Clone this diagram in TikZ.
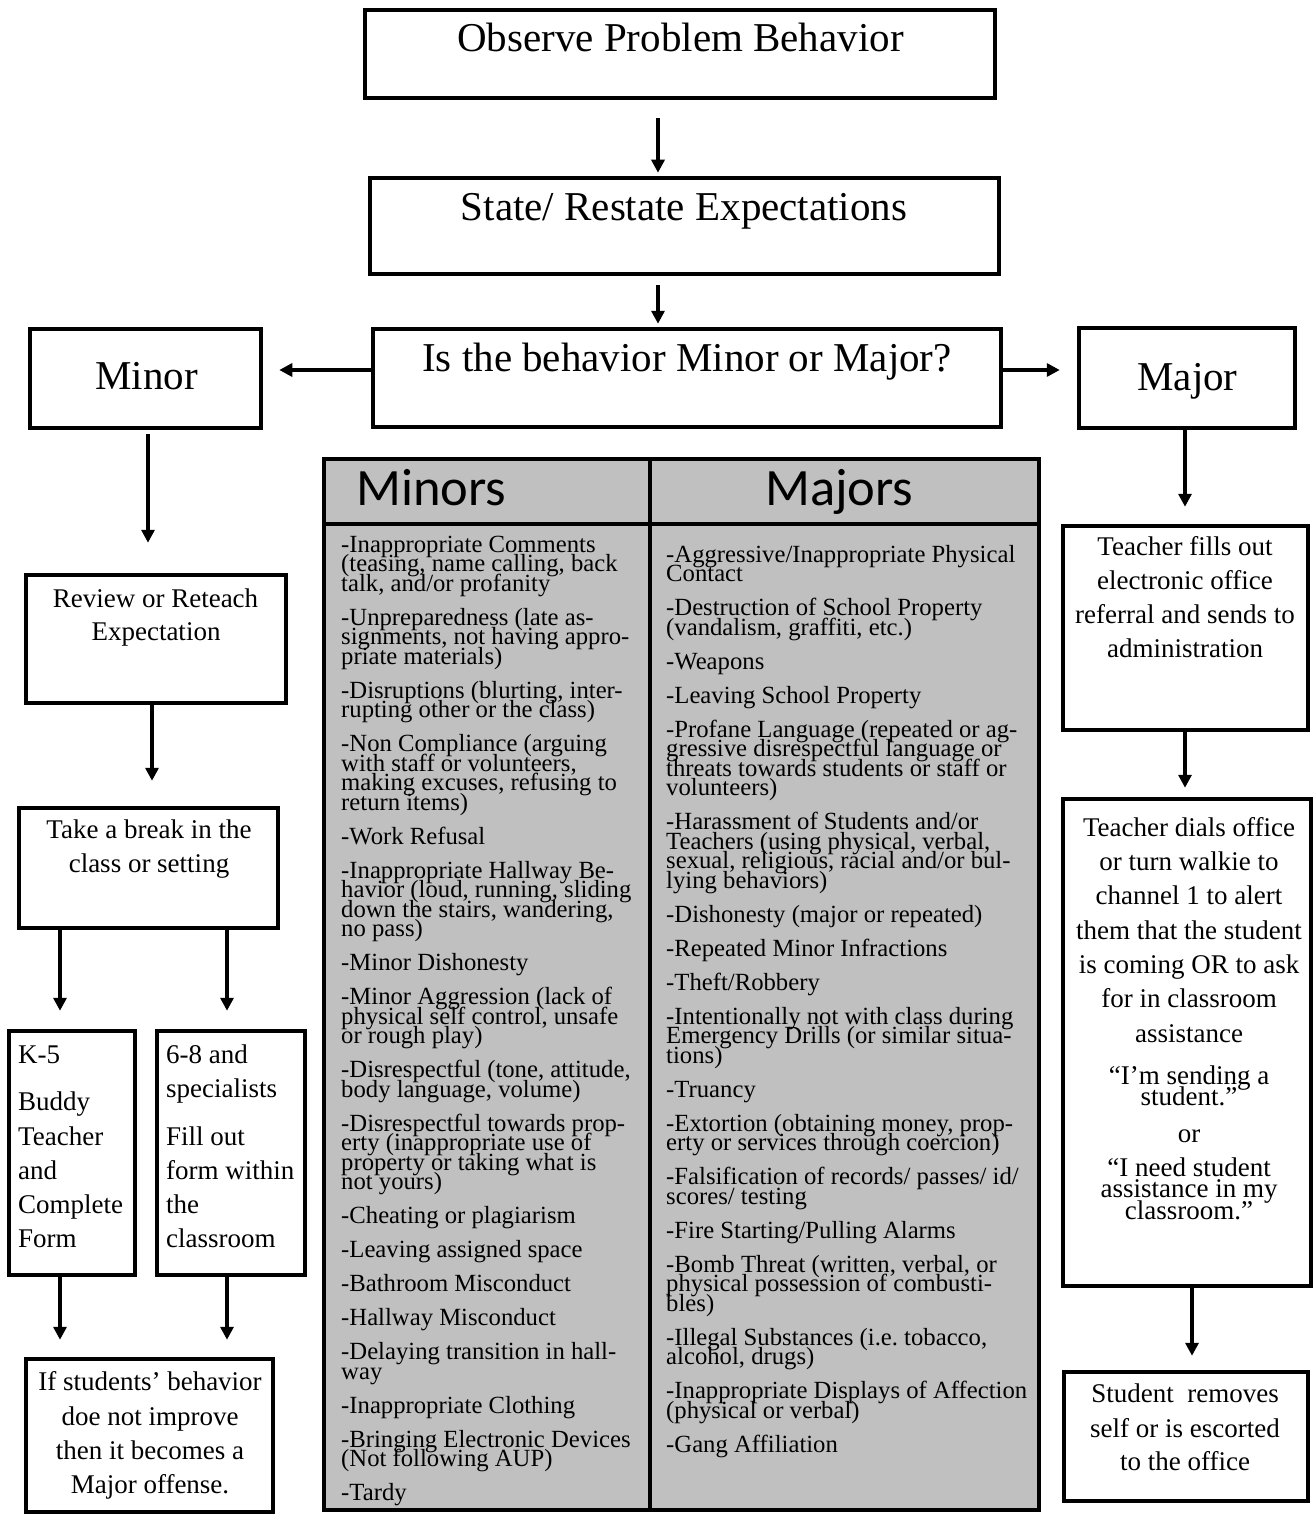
\documentclass[tikz,border=0pt]{standalone}
\usepackage{fontspec}
\setmainfont{Liberation Serif}
\newfontfamily\hdrfont{Carlito}
\usetikzlibrary{arrows.meta}
\definecolor{tgray}{RGB}{192,192,192}
\AtBeginDocument{\frenchspacing}
\newdimen\tyy
\newcount\tnn
\newcommand\TStart[2]{\gdef\tcx{#1}\global\tyy=#2pt\relax}
\newcommand\TL[1]{\global\advance\tnn by 1\relax
  \node[tabline] (tl\the\tnn) at (\tcx pt,-\the\tyy) {#1};
  \global\advance\tyy by 19.5pt\relax}
\newcommand\TG{\global\advance\tyy by 14.5pt\relax}
\begin{document}
\begin{tikzpicture}[x=1pt,y=-1pt,
  box/.style={draw,line width=4.5pt,inner sep=0pt},
  arr/.style={line width=3.5pt,-{Triangle[length=13pt,width=13pt]}},
  bigtxt/.style={anchor=base,inner sep=0pt,font=\fontsize{41}{49}\selectfont},
  btxt/.style={anchor=base,inner sep=0pt,font=\fontsize{27}{33}\selectfont},
  ltxt/.style={anchor=base west,inner sep=0pt,font=\fontsize{27}{33}\selectfont},
  tabline/.style={anchor=base west,inner sep=0pt,font=\fontsize{24.7}{20}\selectfont},
  hdr/.style={anchor=base west,inner sep=0pt,font=\hdrfont\fontsize{52.5}{60}\selectfont}]
\useasboundingbox (0,0) rectangle (1314,1514);
\fill[white] (0,0) rectangle (1314,1514);

% ---- boxes
\node[box,minimum width=630pt,minimum height=88pt] (obs) at (680,54) {};
\node[box,minimum width=629pt,minimum height=96pt] (state) at (684.5,226) {};
\node[box,minimum width=628pt,minimum height=98pt] (isq) at (687,378) {};
\node[box,minimum width=231pt,minimum height=99pt] (minor) at (145.5,378.5) {};
\node[box,minimum width=216pt,minimum height=100pt] (major) at (1187,378) {};
\node[box,minimum width=260pt,minimum height=128pt] (review) at (156,639) {};
\node[box,minimum width=259pt,minimum height=120pt] (takebr) at (148.5,868) {};
\node[box,minimum width=126pt,minimum height=244pt] (k5) at (72,1153) {};
\node[box,minimum width=148pt,minimum height=244pt] (six) at (231,1153) {};
\node[box,minimum width=247pt,minimum height=153pt] (ifst) at (149.5,1435.5) {};
\node[box,minimum width=245pt,minimum height=204pt] (fills) at (1185.5,628) {};
\node[box,minimum width=248pt,minimum height=487pt] (dials) at (1187,1042.5) {};
\node[box,minimum width=244pt,minimum height=129pt] (stud) at (1186,1436.5) {};

% ---- table
\draw[line width=4pt,fill=tgray] (324,459) rectangle (1039,1510);
\draw[line width=4pt] (324,524) -- (1039,524);
\draw[line width=4pt] (650,459) -- (650,1510);
\node[hdr] (hmin) at (356,505) {Minors};
\node[hdr] (hmaj) at (765,505) {Majors};

\TStart{341}{552}
\TL{-Inappropriate Comments}\TL{(teasing, name calling, back}\TL{talk, and/or profanity}\TG
\TL{-Unpreparedness (late as-}\TL{signments, not having appro-}\TL{priate materials)}\TG
\TL{-Disruptions (blurting, inter-}\TL{rupting other or the class)}\TG
\TL{-Non Compliance (arguing}\TL{with staff or volunteers,}\TL{making excuses, refusing to}\TL{return items)}\TG
\TL{-Work Refusal}\TG
\TL{-Inappropriate Hallway Be-}\TL{havior (loud, running, sliding}\TL{down the stairs, wandering,}\TL{no pass)}\TG
\TL{-Minor Dishonesty}\TG
\TL{-Minor Aggression (lack of}\TL{physical self control, unsafe}\TL{or rough play)}\TG
\TL{-Disrespectful (tone, attitude,}\TL{body language, volume)}\TG
\TL{-Disrespectful towards prop-}\TL{erty (inappropriate use of}\TL{property or taking what is}\TL{not yours)}\TG
\TL{-Cheating or plagiarism}\TG
\TL{-Leaving assigned space}\TG
\TL{-Bathroom Misconduct}\TG
\TL{-Hallway Misconduct}\TG
\TL{-Delaying transition in hall-}\TL{way}\TG
\TL{-Inappropriate Clothing}\TG
\TL{-Bringing Electronic Devices}\TL{(Not following AUP)}\TG
\TL{-Tardy}

\TStart{666}{562}
\TL{-Aggressive/Inappropriate Physical}\TL{Contact}\TG
\TL{-Destruction of School Property}\TL{(vandalism, graffiti, etc.)}\TG
\TL{-Weapons}\TG
\TL{-Leaving School Property}\TG
\TL{-Profane Language (repeated or ag-}\TL{gressive disrespectful language or}\TL{threats towards students or staff or}\TL{volunteers)}\TG
\TL{-Harassment of Students and/or}\TL{Teachers (using physical, verbal,}\TL{sexual, religious, racial and/or bul-}\TL{lying behaviors)}\TG
\TL{-Dishonesty (major or repeated)}\TG
\TL{-Repeated Minor Infractions}\TG
\TL{-Theft/Robbery}\TG
\TL{-Intentionally not with class during}\TL{Emergency Drills (or similar situa-}\TL{tions)}\TG
\TL{-Truancy}\TG
\TL{-Extortion (obtaining money, prop-}\TL{erty or services through coercion)}\TG
\TL{-Falsification of records/ passes/ id/}\TL{scores/ testing}\TG
\TL{-Fire Starting/Pulling Alarms}\TG
\TL{-Bomb Threat (written, verbal, or}\TL{physical possession of combusti-}\TL{bles)}\TG
\TL{-Illegal Substances (i.e. tobacco,}\TL{alcohol, drugs)}\TG
\TL{-Inappropriate Displays of Affection}\TL{(physical or verbal)}\TG
\TL{-Gang Affiliation}

% ---- box texts
\node[bigtxt] (tobs) at (680.5,52) {Observe Problem Behavior};
\node[bigtxt] (tstate) at (684,221) {State/ Restate Expectations};
\node[bigtxt] (tisq) at (687,371) {Is the behavior Minor or Major?};
\node[bigtxt] (tminor) at (146.5,389) {Minor};
\node[bigtxt] (tmajor) at (1187.5,390) {Major};

\node[btxt] (trev1) at (155.5,607) {Review or Reteach};
\node[btxt] (trev2) at (156,640) {Expectation};
\node[btxt] (ttak1) at (149,838) {Take a break in the};
\node[btxt] (ttak2) at (149,872) {class or setting};

\node[ltxt] (tk1) at (18,1063) {K-5};
\node[ltxt] (tk2) at (18,1110) {Buddy};
\node[ltxt] (tk3) at (18,1145) {Teacher};
\node[ltxt] (tk4) at (18,1179) {and};
\node[ltxt] (tk5) at (18,1213) {Complete};
\node[ltxt] (tk6) at (18,1247) {Form};

\node[ltxt] (ts1) at (166,1063) {6-8 and};
\node[ltxt] (ts2) at (166,1097) {specialists};
\node[ltxt] (ts3) at (166,1145) {Fill out};
\node[ltxt] (ts4) at (166,1179) {form within};
\node[ltxt] (ts5) at (166,1213) {the};
\node[ltxt] (ts6) at (166,1247) {classroom};

\node[btxt] (ti1) at (150,1390) {If students’ behavior};
\node[btxt] (ti2) at (150,1425) {doe not improve};
\node[btxt] (ti3) at (150,1459) {then it becomes a};
\node[btxt] (ti4) at (150,1493) {Major offense.};

\node[btxt] (tf1) at (1185,555.5) {Teacher fills out};
\node[btxt] (tf2) at (1185,589.5) {electronic office};
\node[btxt] (tf3) at (1185,623.5) {referral and sends to};
\node[btxt] (tf4) at (1185,657.5) {administration};

\node[btxt] (td1) at (1189,836) {Teacher dials office};
\node[btxt] (td2) at (1189,870) {or turn walkie to};
\node[btxt] (td3) at (1189,904.5) {channel 1 to alert};
\node[btxt] (td4) at (1189,939) {them that the student};
\node[btxt] (td5) at (1189,973) {is coming OR to ask};
\node[btxt] (td6) at (1189,1007.5) {for in classroom};
\node[btxt] (td7) at (1189,1042) {assistance};
\node[btxt] (tq1) at (1189,1084) {“I’m sending a};
\node[btxt] (tq2) at (1189,1105) {student.”};
\node[btxt] (tq3) at (1189,1142) {or};
\node[btxt] (tq4) at (1189,1176) {“I need student};
\node[btxt] (tq5) at (1189,1197.5) {assistance in my};
\node[btxt] (tq6) at (1189,1219) {classroom.”};

\node[btxt] (tst1) at (1185,1402) {Student~ removes};
\node[btxt] (tst2) at (1185,1437) {self or is escorted};
\node[btxt] (tst3) at (1185,1470) {to the office};

% ---- connectors
\coordinate (c658) at (658,0);
\coordinate (c148) at (148,0);
\coordinate (c152) at (152,0);
\coordinate (c60) at (60,0);
\coordinate (c227) at (227,0);
\coordinate (c1185) at (1185,0);
\coordinate (c1192) at (1192,0);
\coordinate (h370) at (0,370);

\draw[arr,shorten <=18pt,shorten >=3pt] (obs.south -| c658) -- (state.north -| c658);
\draw[arr,shorten <=9pt,shorten >=3pt] (state.south -| c658) -- (isq.north -| c658);
\draw[arr,shorten >=16pt] (isq.west |- h370) -- (minor.east |- h370);
\draw[arr,shorten >=17pt] (isq.east |- h370) -- (major.west |- h370);
\draw[arr,shorten <=4pt,shorten >=30pt] (minor.south -| c148) -- (review.north -| c148);
\draw[arr,shorten >=25pt] (review.south -| c152) -- (takebr.north -| c152);
\draw[arr,shorten >=18pt] (takebr.south -| c60) -- (k5.north -| c60);
\draw[arr,shorten >=18pt] (takebr.south -| c227) -- (six.north -| c227);
\draw[arr,shorten >=17pt] (k5.south -| c60) -- (ifst.north -| c60);
\draw[arr,shorten >=17pt] (six.south -| c227) -- (ifst.north -| c227);
\draw[arr,shorten >=17pt] (major.south -| c1185) -- (fills.north -| c1185);
\draw[arr,shorten >=9pt] (fills.south -| c1185) -- (dials.north -| c1185);
\draw[arr,shorten >=14pt] (dials.south -| c1192) -- (stud.north -| c1192);
\end{tikzpicture}
\end{document}
